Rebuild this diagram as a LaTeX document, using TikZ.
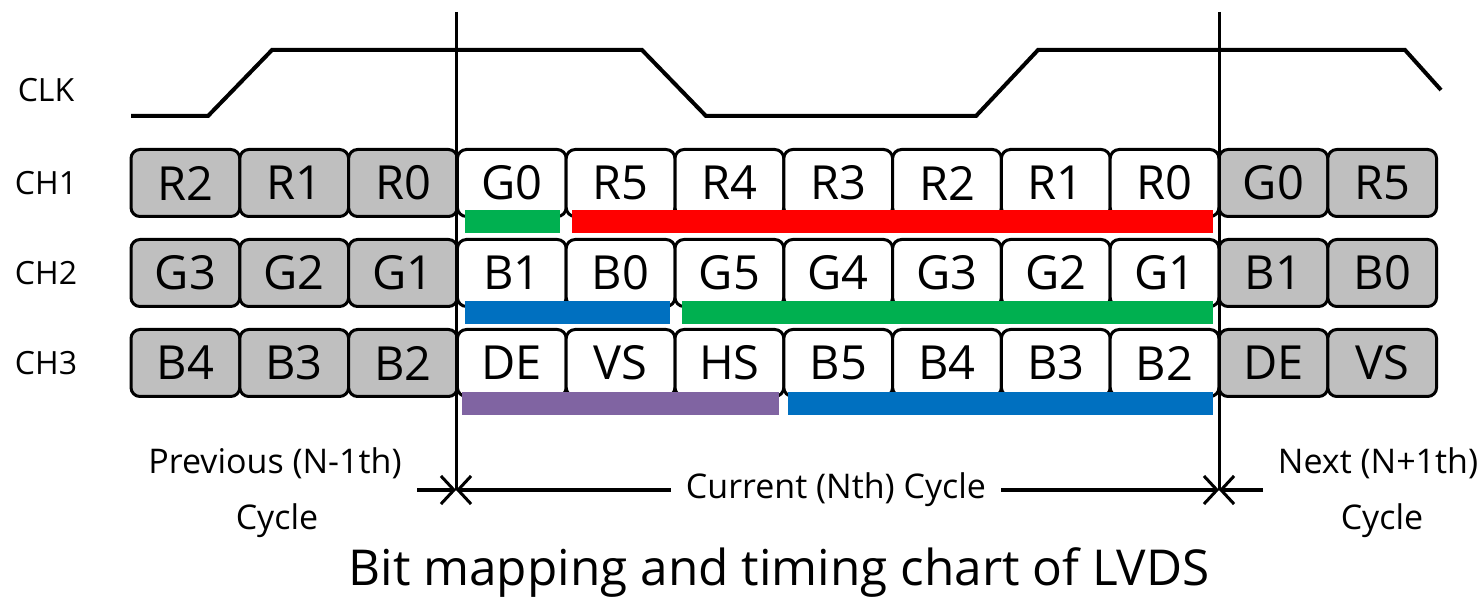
\documentclass[tikz,border=0pt]{standalone}
\usepackage{fontspec}
\setmainfont{Open Sans}
\usetikzlibrary{arrows.meta}
\definecolor{cgray}{RGB}{191,191,191}
\definecolor{cgreen}{RGB}{0,176,80}
\definecolor{cred}{RGB}{255,0,0}
\definecolor{cblue}{RGB}{0,112,192}
\definecolor{cpurple}{RGB}{128,100,162}
\begin{document}
\begin{tikzpicture}[x=1pt,y=-1pt,
  bit/.style={draw=black, line width=3pt, rounded corners=9pt, minimum width=108.8pt,
    minimum height=67pt, inner sep=0pt, font=\fontsize{47}{47}\selectfont},
  oldbit/.style={bit, fill=cgray},
  curbit/.style={bit, fill=white},
  lab/.style={font=\fontsize{32}{32}\selectfont, inner sep=0pt},
  cyc/.style={font=\fontsize{34}{34}\selectfont, inner sep=0pt},
  caption/.style={font=\fontsize{49.5}{49.5}\selectfont, inner sep=0pt},
  wave/.style={line width=4pt, line join=miter},
  cycleline/.style={line width=3pt},
  dim/.style={line width=3.5pt, -{Straight Barb[length=13pt,width=28pt,line width=3pt]}}
]
\useasboundingbox (0,0) rectangle (1483,601);

% labels
\node[lab] (clk) at (46,90) {CLK};
\node[lab] (ch1) at (46,183) {CH1};
\node[lab] (ch2) at (46,273) {CH2};
\node[lab] (ch3) at (46,363) {CH3};

% clock waveform
\draw[wave] (131,116) -- (208,116) -- (272,50) -- (642,50) -- (706,116) -- (976,116)
  -- (1038,50) -- (1405,50) -- (1441,90);

% bit boxes
\foreach \row/\cy/\names in {1/183/{R2,R1,R0,G0,R5,R4,R3,R2,R1,R0,G0,R5},
                             2/273/{G3,G2,G1,B1,B0,G5,G4,G3,G2,G1,B1,B0},
                             3/363/{B4,B3,B2,DE,VS,HS,B5,B4,B3,B2,DE,VS}}{
  \foreach \t [count=\k from 0] in \names {
    \pgfmathsetmacro{\cx}{131+(\k+0.5)*108.8}
    \ifnum\k<3
      \node[oldbit] (b\row-\k) at (\cx,\cy) {\t};
    \else\ifnum\k>9
      \node[oldbit] (b\row-\k) at (\cx,\cy) {\t};
    \else
      \node[curbit] (b\row-\k) at (\cx,\cy) {\t};
    \fi\fi
  }
}

% colour bars
\fill[cgreen]  (465,210) rectangle (560,233);
\fill[cred]    (572,210) rectangle (1213,233);
\fill[cblue]   (465,301) rectangle (670,324);
\fill[cgreen]  (682,301) rectangle (1213,324);
\fill[cpurple] (462,392) rectangle (779,415);
\fill[cblue]   (788,392) rectangle (1213,415);

% cycle boundaries
\coordinate (ltop) at (456,12);
\coordinate (lbot) at (456,490);
\coordinate (rtop) at (1219,12);
\coordinate (rbot) at (1219,490);
\draw[cycleline] (ltop) -- (lbot);
\draw[cycleline] (rtop) -- (rbot);

% cycle texts
\node[cyc, inner xsep=15pt] (cur) at (836,490) {Current (Nth) Cycle};
\node[cyc] (prev1) at (275,463) {Previous (N-1th)};
\node[cyc] (prev2) at (277,521) {Cycle};
\node[cyc] (next1) at (1378,463) {Next (N+1th)};
\node[cyc] (next2) at (1382,521) {Cycle};

\coordinate (lstub) at (417,490);
\coordinate (rstub) at (1263,490);
\draw[dim] (cur.west) -- (lbot);
\draw[dim] (cur.east) -- (rbot);
\draw[dim] (lstub) -- (lbot);
\draw[dim] (rstub) -- (rbot);

\node[caption] (cap) at (779,573) {Bit mapping and timing chart of LVDS};
\end{tikzpicture}
\end{document}
